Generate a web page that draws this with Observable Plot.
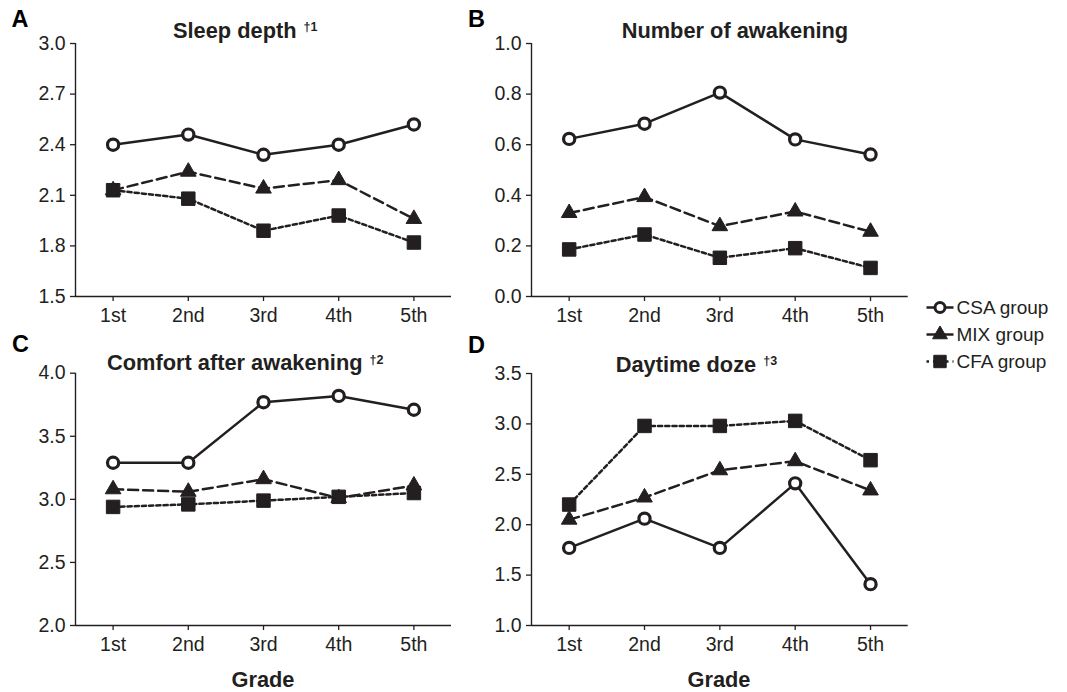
<!DOCTYPE html>
<html>
<head>
<meta charset="utf-8">
<script src="https://cdn.jsdelivr.net/npm/d3@7"></script>
<script src="https://cdn.jsdelivr.net/npm/@observablehq/plot@0.6"></script>
<style>
  html, body { margin: 0; padding: 0; background: #fff; }
  #fig { position: relative; width: 1067px; height: 692px; overflow: hidden; font-family: "Liberation Sans", Arial, sans-serif; }
  .panel { position: absolute; }
  #overlay { position: absolute; left: 0; top: 0; pointer-events: none; }
</style>
</head>
<body>
<div id="fig"></div>
<script>
// ---------- data ----------
const grades = ["1st", "2nd", "3rd", "4th", "5th"];
const groups = ["CSA group", "MIX group", "CFA group"];

const sleepDepthCSA = [2.40, 2.46, 2.34, 2.40, 2.52];
const sleepDepthMIX = [2.13, 2.24, 2.14, 2.19, 1.96];
const sleepDepthCFA = [2.13, 2.08, 1.89, 1.98, 1.82];
const sleepDepthTicks = [1.5, 1.8, 2.1, 2.4, 2.7, 3.0];

const awakeningCSA = [0.623, 0.683, 0.806, 0.621, 0.561];
const awakeningMIX = [0.330, 0.393, 0.278, 0.336, 0.256];
const awakeningCFA = [0.186, 0.245, 0.153, 0.191, 0.113];
const awakeningTicks = [0.0, 0.2, 0.4, 0.6, 0.8, 1.0];

const comfortCSA = [3.29, 3.29, 3.77, 3.82, 3.71];
const comfortMIX = [3.08, 3.06, 3.16, 3.01, 3.11];
const comfortCFA = [2.94, 2.96, 2.99, 3.02, 3.05];
const comfortTicks = [2.0, 2.5, 3.0, 3.5, 4.0];

const dozeCSA = [1.77, 2.06, 1.77, 2.41, 1.41];
const dozeMIX = [2.05, 2.27, 2.54, 2.63, 2.34];
const dozeCFA = [2.20, 2.98, 2.98, 3.03, 2.64];
const dozeTicks = [1.0, 1.5, 2.0, 2.5, 3.0, 3.5];

// ---------- styling ----------
const ink = "#231f20";
const dashes = {"CSA group": null, "MIX group": "10,5", "CFA group": "4.2,3"};

function rowsFor(series) {
  const rows = [];
  groups.forEach((g, gi) => {
    series[gi].forEach((v, i) => rows.push({group: g, i, grade: grades[i], v}));
  });
  return rows;
}

const panels = [
  {key: "A", title: "Sleep depth", sup: "\u20201", series: [sleepDepthCSA, sleepDepthMIX, sleepDepthCFA], ticks: sleepDepthTicks,
   left: 0, top: 0, width: 460, height: 330, mL: 75, mR: 9, mT: 43, mB: 34},
  {key: "B", title: "Number of awakening", sup: "", series: [awakeningCSA, awakeningMIX, awakeningCFA], ticks: awakeningTicks,
   left: 455, top: 0, width: 460, height: 330, mL: 76, mR: 7.3, mT: 43, mB: 34},
  {key: "C", title: "Comfort after awakening", sup: "\u20202", series: [comfortCSA, comfortMIX, comfortCFA], ticks: comfortTicks,
   left: 0, top: 330, width: 460, height: 330, mL: 75, mR: 9, mT: 42.7, mB: 35},
  {key: "D", title: "Daytime doze", sup: "\u20203", series: [dozeCSA, dozeMIX, dozeCFA], ticks: dozeTicks,
   left: 455, top: 330, width: 460, height: 330, mL: 76, mR: 7.3, mT: 43, mB: 35}
];

const fig = document.getElementById("fig");

panels.forEach(p => {
  const rows = rowsFor(p.series);
  const lo = d3.min(p.ticks), hi = d3.max(p.ticks);
  const marks = [
    Plot.ruleY([lo], {stroke: ink, strokeWidth: 1.4}),
    Plot.ruleX([-0.5], {stroke: ink, strokeWidth: 1.4}),
    Plot.axisY({ticks: p.ticks, tickSize: 5, tickPadding: 5, tickFormat: d3.format(".1f"), label: null, stroke: ink, strokeWidth: 1.3, fill: ink, fontSize: 19.5}),
    Plot.axisX({ticks: [0, 1, 2, 3, 4], tickSize: 5, tickPadding: 7, tickFormat: i => grades[i], label: null, stroke: ink, strokeWidth: 1.3, fill: ink, fontSize: 19.5})
  ];
  groups.forEach(g => {
    marks.push(Plot.line(rows.filter(d => d.group === g), {
      x: "i", y: "v", stroke: ink, strokeWidth: 2.5,
      strokeDasharray: dashes[g], strokeLinejoin: "round"
    }));
  });
  marks.push(Plot.dot(rows.filter(d => d.group === "CFA group"), {
    x: "i", y: "v", symbol: "square", r: 7.6, fill: ink, stroke: ink, strokeWidth: 1, strokeLinejoin: "round"
  }));
  marks.push(Plot.dot(rows.filter(d => d.group === "MIX group"), {
    x: "i", y: "v", symbol: "triangle", r: 5.8, fill: ink, stroke: ink, strokeWidth: 1, strokeLinejoin: "round"
  }));
  marks.push(Plot.dot(rows.filter(d => d.group === "CSA group"), {
    x: "i", y: "v", symbol: "circle", r: 5.6, fill: "white", stroke: ink, strokeWidth: 3.2
  }));

  const chart = Plot.plot({
    width: p.width, height: p.height,
    marginLeft: p.mL, marginRight: p.mR, marginTop: p.mT, marginBottom: p.mB,
    x: {type: "linear", domain: [-0.5, 4.5]},
    y: {type: "linear", domain: [lo, hi]},
    style: {fontFamily: '"Liberation Sans", Arial, sans-serif', fontSize: "19.5px", color: ink, background: "transparent", overflow: "visible"},
    marks
  });
  const wrap = document.createElement("div");
  wrap.className = "panel";
  wrap.style.left = p.left + "px";
  wrap.style.top = p.top + "px";
  wrap.appendChild(chart);
  fig.appendChild(wrap);
});

// ---------- text overlay: panel letters, titles, x label, legend ----------
const svg = d3.select(fig).append("svg")
  .attr("id", "overlay").attr("width", 1067).attr("height", 692)
  .style("font-family", '"Liberation Sans", Arial, sans-serif');

const letterPos = {A: [11.5, 26.7], B: [468, 27], C: [12, 351.7], D: [468, 352.7]};
const titlePos = {A: [173, 37.5], B: [621.7, 37.7], C: [107, 370], D: [615.7, 371.7]};

panels.forEach(p => {
  svg.append("text").attr("x", letterPos[p.key][0]).attr("y", letterPos[p.key][1])
    .attr("font-size", 23.5).attr("font-weight", "bold").attr("fill", "#000").text(p.key);
  const t = svg.append("text").attr("x", titlePos[p.key][0]).attr("y", titlePos[p.key][1])
    .attr("font-size", 21.8).attr("font-weight", "bold").attr("fill", ink).text(p.title);
  if (p.sup) {
    t.append("tspan").attr("dx", 7).attr("dy", -6.5).attr("font-size", 12.5).text(p.sup);
  }
});

[[263, 686.5], [719, 686.5]].forEach(([x, y]) => {
  svg.append("text").attr("x", x).attr("y", y).attr("text-anchor", "middle")
    .attr("font-size", 21.8).attr("font-weight", "bold").attr("fill", ink).text("Grade");
});

const legendRowsY = [307.5, 334.5, 361.5];
const legendSymbols = {"CSA group": d3.symbolCircle, "MIX group": d3.symbolTriangle, "CFA group": d3.symbolSquare};
const legendR = {"CSA group": 5, "MIX group": 5.5, "CFA group": 7};
groups.forEach((g, gi) => {
  const y = legendRowsY[gi];
  svg.append("line").attr("x1", 926.5).attr("x2", 953.5).attr("y1", y).attr("y2", y)
    .attr("stroke", ink).attr("stroke-width", 2.5)
    .attr("stroke-dasharray", g === "CFA group" ? "2.5,4" : null);
  const r = legendR[g];
  svg.append("path")
    .attr("transform", `translate(940,${y})`)
    .attr("d", d3.symbol(legendSymbols[g], Math.PI * r * r)())
    .attr("fill", g === "CSA group" ? "white" : ink)
    .attr("stroke", ink)
    .attr("stroke-width", g === "CSA group" ? 3 : 1)
    .attr("stroke-linejoin", "round");
  svg.append("text").attr("x", 956.5).attr("y", y + 6.8)
    .attr("font-size", 19).attr("fill", ink).text(g);
});
</script>
</body>
</html>
